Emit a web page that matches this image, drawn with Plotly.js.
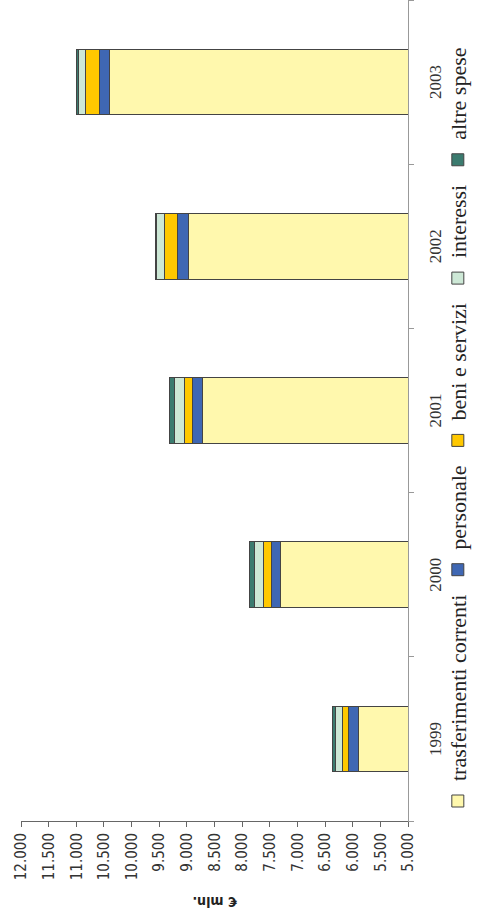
<!DOCTYPE html>
<html><head><meta charset="utf-8">
<script src="https://cdn.plot.ly/plotly-3.0.1.min.js"></script>
<style>
html,body{margin:0;padding:0;width:477px;height:922px;overflow:hidden;background:#fff}
#wrap{position:absolute;left:0;top:0;width:922px;height:477px;transform-origin:0 0;transform:rotate(-90deg) translate(-922px,0)}
</style></head><body>
<div id="wrap"><div id="chart" style="width:922px;height:477px"></div></div>
<script>
const years = ['1999', '2000', '2001', '2002', '2003'];
const seriesNames = ['trasferimenti correnti', 'personale', 'beni e servizi', 'interessi', 'altre spese'];
const trasferimenti = [5892, 7303, 8714, 8962, 10391];
const personale = [181, 170, 181, 199, 194];
const beniServizi = [116, 145, 145, 248, 240];
const interessi = [126, 155, 180, 132, 139];
const altreSpese = [54, 85, 91, 30, 36];
const seriesValues = [trasferimenti, personale, beniServizi, interessi, altreSpese];
const seriesColors = ['#fff8ad', '#3f67b3', '#ffc800', '#cde8d6', '#3b7b6f'];

const serifFont = "Liberation Serif";
const sansFont = "DejaVu Sans Condensed, DejaVu Sans";

const traces = seriesNames.map((name, i) => ({
  type: 'bar',
  name: name,
  x: years,
  y: seriesValues[i],
  marker: {color: seriesColors[i], line: {color: '#444', width: 1}},
  hoverinfo: 'name+y'
}));

const layout = {
  width: 922, height: 477,
  margin: {l: 101, r: 0, t: 21, b: 69, autoexpand: false},
  barmode: 'stack', bargap: 0.6,
  separators: ',.',
  paper_bgcolor: '#fff', plot_bgcolor: '#fff',
  showlegend: true,
  legend: {orientation: 'h', x: 0, xanchor: 'left', y: -0.075, yanchor: 'top', traceorder: 'normal',
    bgcolor: 'rgba(0,0,0,0)',
    font: {family: serifFont, size: 22, color: '#222'}},
  xaxis: {type: 'category', showline: true, linecolor: '#999', linewidth: 1, automargin: false,
    ticks: 'outside', tickson: 'boundaries', ticklen: 5, tickcolor: '#999',
    tickfont: {family: serifFont, size: 17, color: '#333'},
    ticklabelstandoff: 12, showgrid: false, zeroline: false},
  yaxis: {range: [5000, 12000], dtick: 500, tickformat: ',d', showline: true, linecolor: '#666',
    ticks: 'outside', ticklen: 5, tickcolor: '#666', automargin: false,
    tickfont: {family: sansFont, size: 15, color: '#333'},
    ticklabelstandoff: 3,
    showgrid: false, zeroline: false,
    title: {text: '<b>€ mln.</b>', standoff: 12,
      font: {family: sansFont, size: 14, color: '#222'}}}
};

Plotly.newPlot('chart', traces, layout, {displayModeBar: false, staticPlot: true});
</script>
</body></html>
